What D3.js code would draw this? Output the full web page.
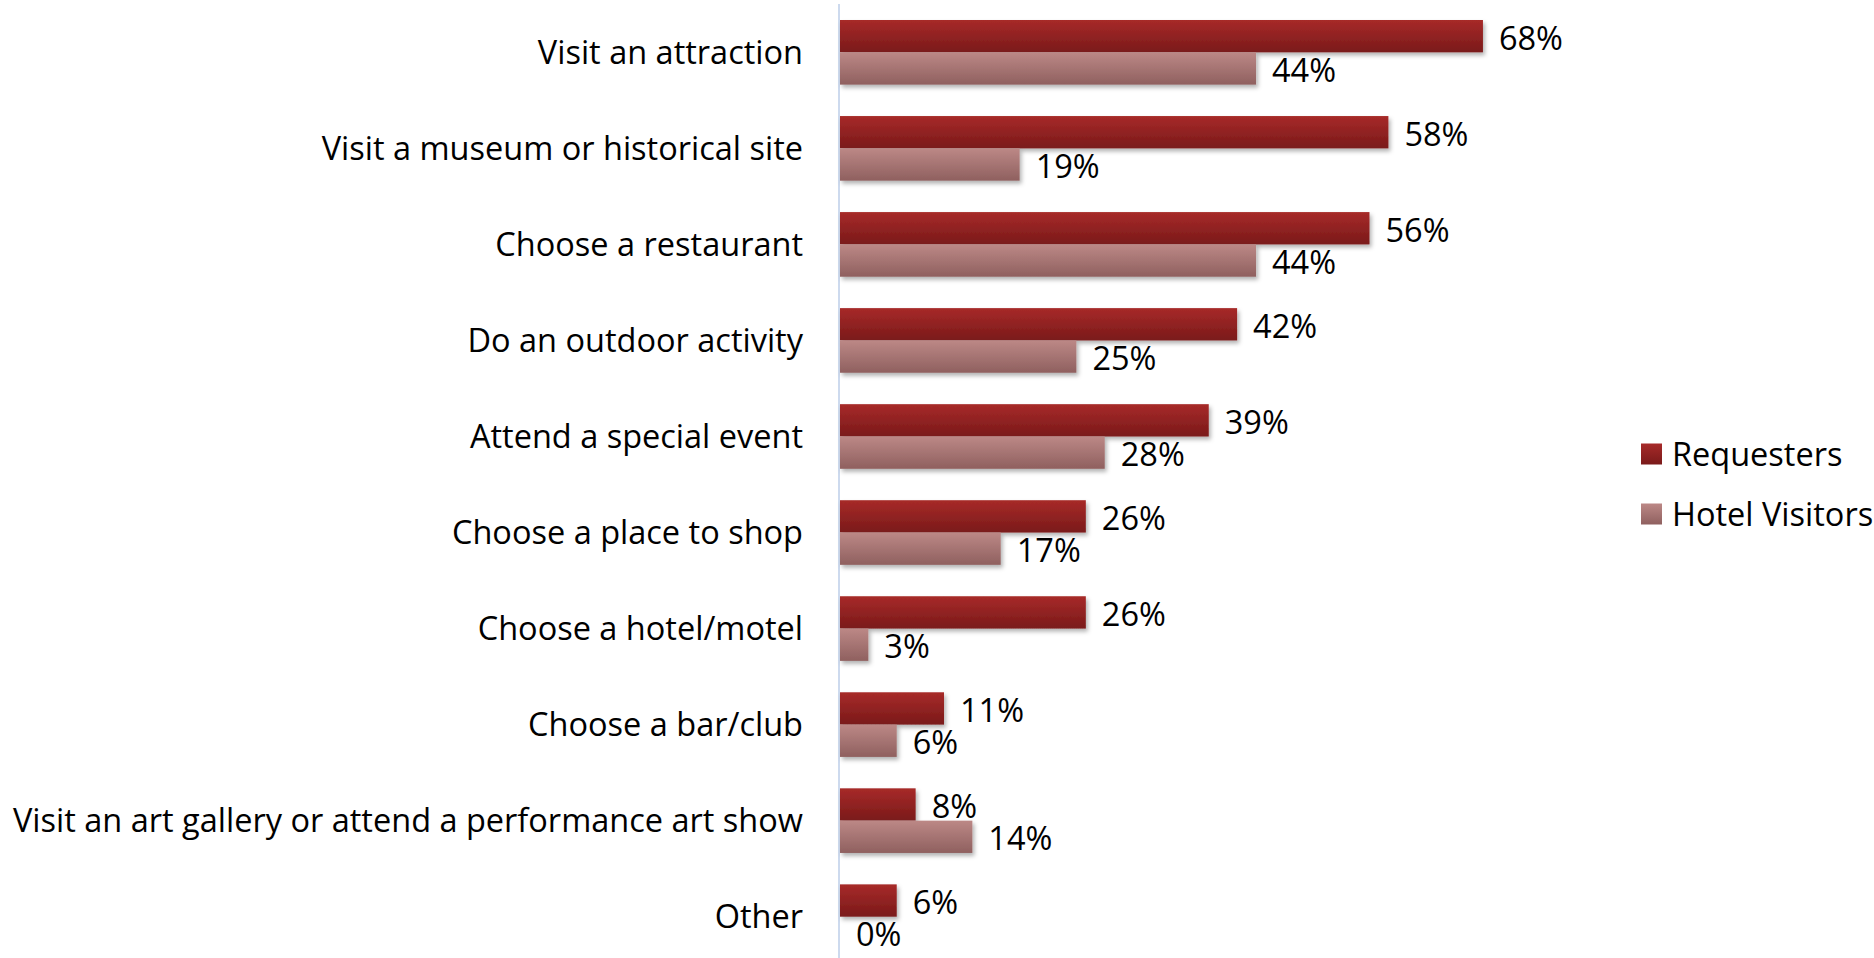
<!DOCTYPE html>
<html>
<head>
<meta charset="utf-8">
<script src="https://cdn.jsdelivr.net/npm/d3@7/dist/d3.min.js"></script>
<style>
  html, body { margin: 0; padding: 0; background: #ffffff; }
  svg { display: block; }
  text { font-family: "Open Sans", "Lato", sans-serif; fill: #000; }
</style>
</head>
<body>
<svg id="chart" width="1874" height="958"></svg>
<script>
// Activities travellers asked for help with
const categories = [
  "Visit an attraction",
  "Visit a museum or historical site",
  "Choose a restaurant",
  "Do an outdoor activity",
  "Attend a special event",
  "Choose a place to shop",
  "Choose a hotel/motel",
  "Choose a bar/club",
  "Visit an art gallery or attend a performance art show",
  "Other"
];
const seriesNames = ["Requesters", "Hotel Visitors"];
const requesters    = [68, 58, 56, 42, 39, 26, 26, 11, 8, 6];
const hotelVisitors = [44, 19, 44, 25, 28, 17, 3, 6, 14, 0];

const seriesValues = [requesters, hotelVisitors];
const rows = categories.map((c, i) => ({
  category: c,
  values: seriesNames.map((s, k) => ({ series: s, value: seriesValues[k][i] }))
}));

const svg = d3.select("#chart");
const fontSize = 32.5;

// Scales
const x = d3.scaleLinear().domain([0, 100]).range([840, 1785.5]);
const y = d3.scaleBand().domain(categories).range([4.3, 964.7])
  .paddingInner(0.327).paddingOuter(0.1635);
const ySub = d3.scaleBand().domain(seriesNames).range([0, y.bandwidth()]);

// Gradients and shadow
const defs = svg.append("defs");
const gradStops = {
  "Requesters": ["#a72a29", "#7a1a1a"],
  "Hotel Visitors": ["#bc8886", "#8f605f"]
};
const gradId = d3.scaleOrdinal().domain(seriesNames).range(["grad-req", "grad-hotel"]);
seriesNames.forEach(s => {
  const g = defs.append("linearGradient").attr("id", gradId(s))
    .attr("x1", 0).attr("y1", 0).attr("x2", 0).attr("y2", 1);
  g.append("stop").attr("offset", "0%").attr("stop-color", gradStops[s][0]);
  g.append("stop").attr("offset", "100%").attr("stop-color", gradStops[s][1]);
});
const shadow = defs.append("filter").attr("id", "barShadow")
  .attr("x", "-10%").attr("y", "-20%").attr("width", "130%").attr("height", "160%");
shadow.append("feDropShadow").attr("dx", 2).attr("dy", 3)
  .attr("stdDeviation", 2).attr("flood-color", "#000").attr("flood-opacity", 0.3);

// Category axis line
svg.append("line")
  .attr("x1", x(0) - 1).attr("x2", x(0) - 1)
  .attr("y1", 4).attr("y2", 958)
  .attr("stroke", "#cddaee").attr("stroke-width", 2);

// Category labels
const yAxis = d3.axisLeft(y).tickSize(0).tickPadding(37);
const axisG = svg.append("g").attr("transform", `translate(${x(0)},0)`).call(yAxis);
axisG.select(".domain").remove();
axisG.selectAll("text")
  .style("font-family", "'Open Sans', Lato, sans-serif")
  .style("font-size", fontSize + "px")
  .attr("dy", "0.36em")
  .attr("fill", "#000");

// Bars
const groups = svg.append("g").selectAll("g.cat")
  .data(rows).join("g")
  .attr("class", "cat")
  .attr("transform", d => `translate(0,${y(d.category)})`);

groups.selectAll("rect")
  .data(d => d.values).join("rect")
  .attr("x", x(0))
  .attr("y", d => ySub(d.series))
  .attr("width", d => x(d.value) - x(0))
  .attr("height", ySub.bandwidth())
  .attr("fill", d => `url(#${gradId(d.series)})`)
  .attr("filter", d => d.value > 0 ? "url(#barShadow)" : null);

// Value labels
groups.selectAll("text.val")
  .data(d => d.values).join("text")
  .attr("class", "val")
  .attr("x", d => x(d.value) + 16)
  .attr("y", d => ySub(d.series) + ySub.bandwidth() / 2)
  .attr("dy", "0.42em")
  .style("font-size", fontSize + "px")
  .text(d => d.value + "%");

// Legend
const legend = svg.append("g").attr("transform", "translate(1641,454)");
const legendItems = legend.selectAll("g")
  .data(seriesNames).join("g")
  .attr("transform", (d, i) => `translate(0,${i * 60})`);
legendItems.append("rect")
  .attr("x", 0).attr("y", -10.5)
  .attr("width", 21).attr("height", 21)
  .attr("fill", d => `url(#${gradId(d)})`);
legendItems.append("text")
  .attr("x", 31).attr("y", 0).attr("dy", "0.36em")
  .style("font-size", fontSize + "px")
  .text(d => d);
</script>
</body>
</html>
